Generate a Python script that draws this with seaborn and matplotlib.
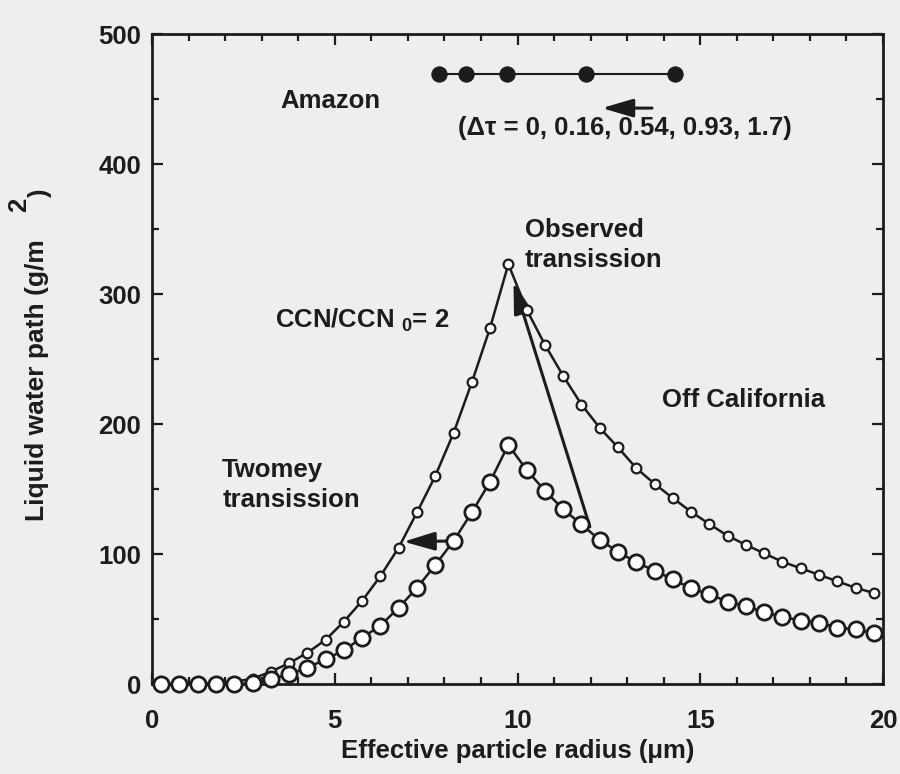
import matplotlib
matplotlib.use("Agg")
import matplotlib.pyplot as plt
import seaborn as sns
import pandas as pd
from matplotlib.ticker import MultipleLocator

# ---------------- data ----------------
radius = [0.25, 0.75, 1.25, 1.75, 2.25, 2.75, 3.25, 3.75, 4.25, 4.75,
          5.25, 5.75, 6.25, 6.75, 7.25, 7.75, 8.25, 8.75, 9.25, 9.75,
          10.25, 10.75, 11.25, 11.75, 12.25, 12.75, 13.25, 13.75, 14.25, 14.75,
          15.25, 15.75, 16.25, 16.75, 17.25, 17.75, 18.25, 18.75, 19.25, 19.75]
lwp_ccn2 = [0, 0, 0.3, 0.8, 1.8, 4, 9.5, 16, 24, 34,
            48, 64, 83, 105, 132, 160, 193, 232, 274, 323,
            288, 261, 237, 215, 197, 182, 166, 154, 143, 132.5,
            123, 114, 107, 100.5, 94, 89, 84, 79, 74, 70]
lwp_base = [0, 0, 0, 0, 0, 0.5, 3.8, 7.4, 12.5, 19,
            26, 35.6, 45, 58.7, 74, 91.5, 110, 132, 155.6, 184,
            164.6, 148.7, 134.4, 122.8, 110.8, 101.8, 93.6, 87.2, 80.5, 73.6,
            69, 63.3, 60, 55.1, 51.8, 48.7, 47.2, 43.3, 42.1, 39]
amazon_r = [7.86, 8.6, 9.71, 11.87, 14.3]
amazon_lwp = [469, 469, 469, 469, 469]
xticks = [0, 5, 10, 15, 20]
yticks = [0, 100, 200, 300, 400, 500]

df = pd.DataFrame({"r": radius, "ccn2": lwp_ccn2, "base": lwp_base})
dfa = pd.DataFrame({"r": amazon_r, "lwp": amazon_lwp})

# ---------------- style ----------------
sns.set_style("ticks")
paper = "#eeeeec"
ink = "#1c1c1c"
plt.rcParams["font.family"] = ["Liberation Sans", "DejaVu Sans"]
plt.rcParams["font.weight"] = "bold"
plt.rcParams["mathtext.fontset"] = "custom"
plt.rcParams["mathtext.rm"] = "Liberation Sans:bold"
plt.rcParams["mathtext.it"] = "Liberation Sans:bold"
plt.rcParams["mathtext.bf"] = "Liberation Sans:bold"
plt.rcParams["mathtext.default"] = "regular"

fs = 18.5
fig = plt.figure(figsize=(9, 7.74), dpi=100, facecolor=paper)
ax = fig.add_axes([152/900, 1-684/774, (883-152)/900, (684-34)/774])
ax.set_facecolor(paper)

# arrows (under the markers)
arrow_kw = dict(arrowstyle="-|>,head_length=0.95,head_width=0.28", color=ink,
                lw=2.2, shrinkA=0, shrinkB=0, mutation_scale=20)
ax.annotate("", xy=(9.89, 309), xytext=(11.98, 121), arrowprops=arrow_kw)
ax.annotate("", xy=(6.88, 109.5), xytext=(8.24, 110), arrowprops=arrow_kw)
ax.annotate("", xy=(12.31, 443), xytext=(13.68, 443), arrowprops=arrow_kw)

# series
sns.lineplot(data=df, x="r", y="ccn2", ax=ax, color=ink, lw=1.8, marker="o",
             markersize=7, mfc="white", mec=ink, mew=1.6, clip_on=False, zorder=4)
sns.lineplot(data=df, x="r", y="base", ax=ax, color=ink, lw=1.8, marker="o",
             markersize=11, mfc="white", mec=ink, mew=2.0, clip_on=False, zorder=5)
sns.lineplot(data=dfa, x="r", y="lwp", ax=ax, color=ink, lw=1.5, marker="o",
             markersize=11, mfc=ink, mec=ink, zorder=5)

# axes
ax.set_xlim(0, 20)
ax.set_ylim(0, 500)
ax.set_xticks(xticks)
ax.set_yticks(yticks)
ax.xaxis.set_minor_locator(MultipleLocator(1))
ax.yaxis.set_minor_locator(MultipleLocator(50))
ax.tick_params(which="both", direction="in", top=True, right=True,
               color=ink, width=1.6, labelsize=fs, labelcolor=ink)
ax.tick_params(which="major", length=8)
ax.tick_params(which="minor", length=5)
ax.tick_params(axis="x", which="major", pad=18)
ax.tick_params(axis="y", which="major", pad=8)
for s in ax.spines.values():
    s.set_linewidth(2.0)
    s.set_color(ink)
    s.set_visible(True)
for lab in ax.get_xticklabels() + ax.get_yticklabels():
    lab.set_fontweight("bold")

ax.set_xlabel("Effective particle radius (\u03bcm)", fontsize=fs, fontweight="bold",
              color=ink, labelpad=4)
ax.set_ylabel("")
fig.text(37/900, 1-380/774, "Liquid water path (g/m", rotation=90, fontsize=19,
         fontweight="bold", color=ink, ha="center", va="center")
fig.text(19/900, 1-205/774, "2", rotation=90, fontsize=fs, fontweight="bold",
         color=ink, ha="center", va="center")
fig.text(40/900, 1-194/774, ")", rotation=90, fontsize=fs, fontweight="bold",
         color=ink, ha="center", va="center")

# annotations
tk = dict(fontsize=fs, fontweight="bold", color=ink, va="center", ha="left")
ax.text(3.5, 448.5, "Amazon", **tk)
ax.text(8.37, 427.7, "(\u0394\u03c4 = 0, 0.16, 0.54, 0.93, 1.7)", **tk)
ax.text(10.2, 337.7, "Observed\ntransission", linespacing=1.3, **tk)
ax.text(3.37, 280, "CCN/CCN $_{0}$= 2", **tk)
ax.text(13.95, 218.5, "Off California", **tk)
ax.text(1.92, 153, "Twomey\ntransission", linespacing=1.3, **tk)

fig.savefig("out.png", dpi=100, facecolor=paper)
